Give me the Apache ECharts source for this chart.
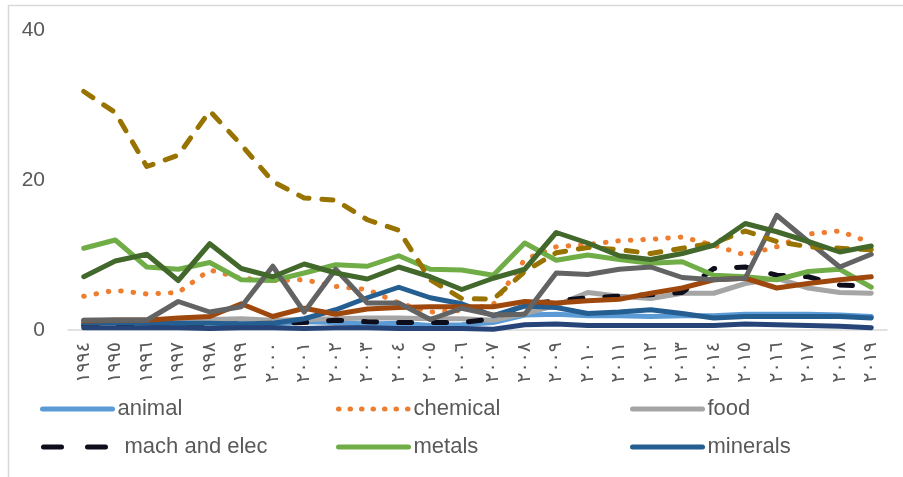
<!DOCTYPE html>
<html><head><meta charset="utf-8">
<script src="https://cdn.jsdelivr.net/npm/echarts@6/dist/echarts.min.js"></script>
<style>html,body{margin:0;padding:0;background:#fff}#c{width:903px;height:477px}</style>
</head><body><div id="c"></div><script>
const years = ['١٩٩٤','١٩٩٥','١٩٩٦','١٩٩٧','١٩٩٨','١٩٩٩','٢٠٠٠','٢٠٠١','٢٠٠٢','٢٠٠٣','٢٠٠٤','٢٠٠٥','٢٠٠٦','٢٠٠٧','٢٠٠٨','٢٠٠٩','٢٠١٠','٢٠١١','٢٠١٢','٢٠١٣','٢٠١٤','٢٠١٥','٢٠١٦','٢٠١٧','٢٠١٨','٢٠١٩'];
const yTicks = [0, 20, 40];
const animal   = [0.8,1.1,0.9,0.8,1.1,0.9,0.8,1.1,1.0,0.8,0.9,0.6,0.7,1.0,2.0,2.1,1.9,1.9,1.8,1.9,1.9,2.1,2.1,2.1,2.0,1.8];
const chemical = [4.5,5.3,4.8,5.0,8.0,6.9,6.6,6.7,5.8,5.4,3.6,2.4,2.6,3.4,9.4,11.1,11.4,11.9,12.1,12.4,11.3,10.0,11.1,12.8,13.2,11.6];
const food     = [1.3,1.4,1.4,1.3,1.4,1.5,1.3,1.4,1.5,1.6,1.6,1.5,1.5,1.3,2.2,3.3,5.0,4.5,4.2,4.9,4.9,6.2,6.9,5.6,5.0,4.9];
const machElec = [0.6,0.6,0.7,0.6,0.7,0.8,0.9,1.0,1.3,1.1,1.0,1.0,1.0,1.5,3.4,3.9,4.3,4.5,4.7,5.0,8.2,8.4,7.3,7.1,6.0,5.8];
const metals   = [10.9,12.0,8.4,8.1,9.0,6.7,6.6,7.6,8.7,8.5,9.9,8.1,8.0,7.3,11.6,9.3,10.0,9.4,8.9,9.1,7.3,7.1,6.7,7.8,8.1,5.7];
const minerals = [0.9,1.0,0.9,0.9,0.9,0.8,0.9,1.5,2.7,4.3,5.7,4.3,3.5,1.9,3.2,3.0,2.2,2.4,2.7,2.2,1.6,1.8,1.8,1.8,1.8,1.6];
const misc     = [0.3,0.3,0.3,0.3,0.2,0.3,0.3,0.2,0.3,0.3,0.2,0.2,0.2,0.1,0.7,0.8,0.6,0.6,0.6,0.6,0.6,0.8,0.7,0.6,0.5,0.3];
const plastic  = [1.2,1.3,1.3,1.6,1.8,3.5,1.8,2.9,2.1,2.8,3.0,3.1,3.1,3.1,3.8,3.6,3.9,4.1,4.9,5.6,6.7,6.9,5.6,6.2,6.7,7.1];
const stone    = [1.3,1.3,1.3,3.8,2.4,3.1,8.5,2.4,8.1,3.6,3.6,1.4,2.9,2.0,2.1,7.6,7.4,8.1,8.4,7.0,6.7,6.9,15.3,11.8,8.4,10.1];
const textiles = [31.8,29.0,21.8,23.3,29.2,24.7,19.8,17.6,17.3,14.7,13.3,6.7,4.2,4.1,7.8,10.3,11.0,10.7,10.2,10.9,11.6,13.2,11.8,11.1,10.9,10.7];
const vegetable= [7.1,9.2,10.1,6.6,11.5,8.2,7.1,8.8,7.6,6.8,8.4,7.1,5.4,6.9,8.1,13.0,11.6,9.9,9.4,10.2,11.3,14.2,13.1,11.8,10.4,11.2];

const W = 5;
const DOT = [0.5, 12];
const DASH_BLACK = [13, 22];
const DASH_OLIVE = [11, 13];
function mk(name, data, color, dash){
  return {name, type:'line', data, symbol:'none', showSymbol:false, smooth:false,
    lineStyle:{color, width:W, type: dash || 'solid', cap:'round', join:'round'},
    itemStyle:{color}};
}
const series = [
  mk('animal', animal, '#5B9BD5'),
  mk('chemical', chemical, '#ED7D31', DOT),
  mk('food', food, '#A5A5A5'),
  mk('mach and elec', machElec, '#0D0D1C', DASH_BLACK),
  mk('metals', metals, '#70AD47'),
  mk('minerals', minerals, '#255E91'),
  mk('misc', misc, '#264478'),
  mk('plastic or rubber', plastic, '#9E480E'),
  mk('stone and glass', stone, '#636363'),
  mk('textiles', textiles, '#997300', DASH_OLIVE),
  mk('vegetable', vegetable, '#43682B')
];
const FF = "'Liberation Sans', Arial, sans-serif";
function leg(name, left, top, color, dash, width){
  return {data:[name], left, top, orient:'horizontal', itemWidth:width || 70, itemHeight:14, padding:0,
    selectedMode:false,
    itemStyle:{opacity:0, borderWidth:0},
    lineStyle:{color, width:W, type: dash || 'solid', cap:'round', opacity:1},
    textStyle:{fontSize:22, color:'#595959', fontFamily:FF, lineHeight:26}};
}
const chart = echarts.init(document.getElementById('c'), null, {renderer:'canvas'});
chart.setOption({
  animation:false,
  backgroundColor:'#fff',
  graphic:[{type:'rect', silent:true, shape:{x:8.5, y:5.5, width:1000, height:1000},
    style:{fill:'none', stroke:'#D9D9D9', lineWidth:1.5}}],
  grid:{left:68, right:16, top:30, bottom:147, containLabel:false},
  legend:[
    leg('animal', 40, 396, '#5B9BD5'), leg('chemical', 336, 396, '#ED7D31', [0.5, 11]), leg('food', 630, 396, '#A5A5A5'),
    leg('mach and elec', 41, 434, '#0D0D1C', [18, 26], 76), leg('metals', 336, 434, '#70AD47'), leg('minerals', 630, 434, '#255E91')
  ],
  xAxis:{type:'category', data:years, boundaryGap:true,
    axisLine:{show:true, lineStyle:{color:'#D9D9D9', width:1.5}},
    axisTick:{show:false},
    axisLabel:{interval:0, rotate:90, margin:12, fontSize:19, color:'#595959', fontFamily:"'DejaVu Sans', sans-serif"},
    splitLine:{show:false}},
  yAxis:{type:'value', min:yTicks[0], max:yTicks[yTicks.length-1], interval:20,
    axisLine:{show:false}, axisTick:{show:false}, splitLine:{show:false},
    axisLabel:{margin:23, fontSize:21, color:'#595959', fontFamily:FF}},
  series
});
</script></body></html>
